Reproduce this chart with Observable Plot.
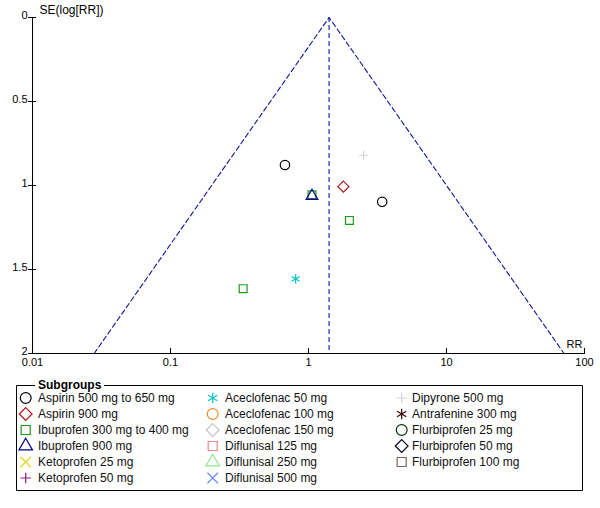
<!DOCTYPE html>
<html>
<head>
<meta charset="utf-8">
<script src="https://cdn.jsdelivr.net/npm/d3@7"></script>
<script src="https://cdn.jsdelivr.net/npm/@observablehq/plot@0.6"></script>
<style>
  body { margin: 0; background: white; }
  #chart svg { display: block; }
</style>
</head>
<body>
<div id="chart"></div>
<script>
// ---- data ----
const subgroups = [
  "Aspirin 500 mg to 650 mg", "Aspirin 900 mg", "Ibuprofen 300 mg to 400 mg",
  "Ibuprofen 900 mg", "Ketoprofen 25 mg", "Ketoprofen 50 mg",
  "Aceclofenac 50 mg", "Aceclofenac 100 mg", "Aceclofenac 150 mg",
  "Diflunisal 125 mg", "Diflunisal 250 mg", "Diflunisal 500 mg",
  "Dipyrone 500 mg", "Antrafenine 300 mg", "Flurbiprofen 25 mg",
  "Flurbiprofen 50 mg", "Flurbiprofen 100 mg"
];
const studySubgroup = [
  "Aspirin 500 mg to 650 mg", "Aspirin 500 mg to 650 mg", "Aspirin 900 mg",
  "Ibuprofen 300 mg to 400 mg", "Ibuprofen 300 mg to 400 mg", "Ibuprofen 300 mg to 400 mg",
  "Ibuprofen 900 mg", "Aceclofenac 50 mg", "Dipyrone 500 mg"
];
const studyRR = [0.675, 3.42, 1.79, 1.06, 1.98, 0.336, 1.06, 0.807, 2.51];
const studySE = [0.878, 1.097, 1.007, 1.055, 1.208, 1.614, 1.063, 1.556, 0.82];
const pooledRR = 1.41;
const xTicks = [0.01, 0.1, 1, 10, 100];
const xTickLabels = ["0.01", "0.1", "1", "10", "100"];
const yTicks = [0, 0.5, 1, 1.5, 2];
const yTickLabels = ["0", "0.5", "1", "1.5", "2"];
const xLabel = "RR";
const yLabel = "SE(log[RR])";
const legendTitle = "Subgroups";

// ---- styles ----
const subgroupColors = [
  "#000000", "#b01818", "#1a9a1a", "#00008c", "#e8d020", "#8a1a8a",
  "#00c4c4", "#f08a28", "#c4c4c4", "#e08a8a", "#8ee88e", "#6a88f0",
  "#d4d4d4", "#3c0000", "#002e00", "#00002e", "#806464"
];
const subgroupSymbols = [
  "circle", "diamond2", "square2", "triangle2", "times", "plus",
  "asterisk", "circle", "diamond2", "square2", "triangle2", "times",
  "plus", "asterisk", "circle", "diamond2", "square2"
];
const symbolR = {circle: 4.7, diamond2: 5, square2: 5, triangle2: 5.6, times: 4.2, plus: 3, asterisk: 4.4};
const funnelColor = "#14149a";
const font = "'Liberation Sans', Arial, sans-serif";

const studies = studyRR.map((rr, i) => ({rr, se: studySE[i], group: studySubgroup[i]}));
const seMax = d3.max(yTicks);
const funnel = [
  {rr: pooledRR * Math.exp(-1.96 * seMax), se: seMax},
  {rr: pooledRR, se: 0},
  {rr: pooledRR * Math.exp(1.96 * seMax), se: seMax}
];

const dotMarks = subgroups.map((g, k) => {
  const rows = studies.filter(d => d.group === g);
  if (!rows.length) return null;
  const sym = subgroupSymbols[k];
  return Plot.dot(rows, {x: "rr", y: "se", symbol: () => sym, r: symbolR[sym],
    stroke: subgroupColors[k], fill: "none", strokeWidth: 1.2});
}).filter(Boolean);

const plotH = 375;
const plot = Plot.plot({
  width: 600, height: plotH,
  marginLeft: 32, marginRight: 16, marginTop: 17, marginBottom: 22,
  style: {fontFamily: font, fontSize: "11px", background: "white", color: "black"},
  x: {type: "log", domain: [0.01, 100], label: null},
  y: {domain: [0, 2], reverse: true, label: null},
  symbol: {type: "identity"},
  marks: [
    Plot.ruleX([pooledRR], {stroke: funnelColor, strokeDasharray: "5,3", strokeWidth: 1.1}),
    Plot.line(funnel, {x: "rr", y: "se", stroke: funnelColor, strokeDasharray: "5,3", strokeWidth: 1.1}),
    Plot.ruleX([0.01], {stroke: "black"}),
    Plot.ruleY([2], {stroke: "black"}),
    Plot.axisY(yTicks, {tickSize: 8, dx: 4, tickFormat: () => ""}),
    Plot.axisY(yTicks, {tickSize: 0, tickPadding: 5, dy: -2.5, tickFormat: d => yTickLabels[yTicks.indexOf(d)], fontSize: 11}),
    Plot.axisX(xTicks, {tickSize: 6, dy: -5, tickFormat: () => ""}),
    Plot.axisX(xTicks, {tickSize: 0, tickPadding: 5, tickFormat: d => xTickLabels[xTicks.indexOf(d)], fontSize: 11}),
    Plot.text([xLabel], {frameAnchor: "bottom-right", textAnchor: "end", lineAnchor: "bottom", dx: -2, dy: -6, fontSize: 11}),
    Plot.text([yLabel], {frameAnchor: "top-left", textAnchor: "start", lineAnchor: "bottom", dx: 7, dy: -4, fontSize: 12}),
    ...dotMarks
  ]
});
document.getElementById("chart").appendChild(plot);

// ---- legend (below the plot svg) ----
const off = plotH;
const lg = d3.select("#chart").append("svg")
  .attr("width", 600).attr("height", 508 - plotH)
  .style("font-family", font).style("font-size", "12px");
const g = lg.append("g").attr("transform", `translate(0,${-off})`);
const bx0 = 16.5, bx1 = 582.5, by0 = 385.5, by1 = 490.5;
g.append("path")
  .attr("d", `M35,${by0} H${bx0} V${by1} H${bx1} V${by0} H104`)
  .attr("fill", "none").attr("stroke", "black");
g.append("text").attr("x", 38).attr("y", by0 - 0.5).attr("dy", "0.33em")
  .attr("font-weight", "bold").text(legendTitle);
const colSym = [25.7, 212.7, 401.7];
const colText = [38, 225, 412];
const d3sym = {circle: d3.symbolCircle, diamond2: d3.symbolDiamond2, square2: d3.symbolSquare2,
  triangle2: d3.symbolTriangle2, times: d3.symbolTimes, plus: d3.symbolPlus, asterisk: d3.symbolAsterisk};
subgroups.forEach((name, k) => {
  const col = Math.floor(k / 6), row = k % 6;
  const y = 398 + row * 16;
  const sym = subgroupSymbols[k];
  const r = symbolR[sym] * 1.15;
  g.append("path")
    .attr("transform", `translate(${colSym[col]},${y})`)
    .attr("d", d3.symbol(d3sym[sym], Math.PI * r * r)())
    .attr("fill", "none").attr("stroke", subgroupColors[k]).attr("stroke-width", 1.2);
  g.append("text").attr("x", colText[col]).attr("y", y).attr("dy", "0.36em")
    .attr("fill", "#111").text(name);
});
</script>
</body>
</html>
